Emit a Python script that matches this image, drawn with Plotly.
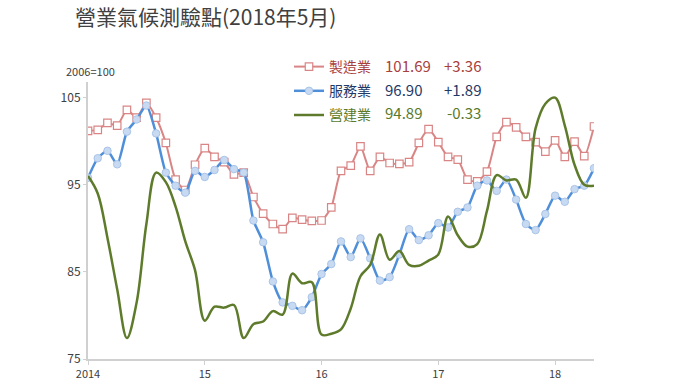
import plotly.graph_objects as go

months = list(range(53))  # Jan 2014 .. May 2018
tick_vals = [0, 12, 24, 36, 48]
tick_text = ["2014", "15", "16", "17", "18"]

manufacturing = [101.2, 101.3, 102.1, 101.8, 103.6, 102.7, 104.4, 102.7, 99.8, 95.6,
                 94.4, 97.3, 99.2, 98.2, 97.6, 96.2, 96.4, 93.6, 91.7, 90.5,
                 89.9, 91.2, 91.0, 90.85, 90.9, 92.4, 96.6, 97.2, 99.4, 96.6,
                 98.2, 97.5, 97.4, 97.6, 99.8, 101.4, 99.9, 98.2, 97.9, 95.6,
                 95.4, 96.5, 100.5, 102.2, 101.6, 100.5, 99.9, 98.8, 100.1, 98.2,
                 99.95, 98.3, 101.69]

services = [95.8, 98.05, 98.9, 97.35, 101.1, 102.5, 104.1, 100.9, 96.4, 94.9,
            94.1, 96.6, 95.9, 96.7, 97.85, 96.8, 96.4, 90.9, 88.4, 83.9,
            81.5, 81.1, 80.6, 82.1, 84.75, 85.9, 88.5, 86.7, 88.85, 86.55,
            84.0, 84.4, 87.0, 89.9, 88.65, 89.2, 90.6, 90.1, 91.9, 92.4,
            94.9, 95.5, 94.3, 95.6, 93.3, 90.5, 89.8, 91.65, 93.75, 93.05,
            94.5, 94.9, 96.90]

construction = [96.0, 94.0, 88.9, 83.0, 77.4, 81.5, 90.5, 96.4, 95.3, 92.5,
                88.5, 85.2, 79.4, 81.0, 80.9, 81.2, 77.4, 79.0, 79.3, 80.5,
                80.1, 84.8, 83.7, 83.8, 77.8, 77.9, 78.4, 80.8, 84.5, 85.8,
                89.3, 86.4, 87.4, 85.8, 85.7, 86.3, 87.0, 91.35, 89.2, 87.9,
                88.2, 92.0, 96.1, 95.5, 95.6, 93.5, 101.5, 104.3, 105.0, 101.8,
                97.3, 95.0, 94.89]

names = ["製造業", "服務業", "營建業"]
latest = ["101.69", "96.90", "94.89"]
changes = ["+3.36", "+1.89", "-0.33"]
text_colors = ["#a8403d", "#1f3a68", "#5a7a2a"]

fig = go.Figure()
fig.add_trace(go.Scatter(
    x=months, y=manufacturing, name=f"<span style='color:{text_colors[0]}'>{names[0]}</span>",
    legendgroup="a",
    mode="lines+markers", line=dict(color="#d98585", width=2, shape="spline", smoothing=0.6),
    marker=dict(symbol="square", size=7.5, color="white", line=dict(color="#d98585", width=1.2))))
fig.add_trace(go.Scatter(
    x=months, y=services, name=f"<span style='color:{text_colors[1]}'>{names[1]}</span>",
    legendgroup="b",
    mode="lines+markers", line=dict(color="#4f8fda", width=2.5, shape="spline", smoothing=0.6),
    marker=dict(symbol="circle", size=7.5, color="#c7daf2", line=dict(color="#a9c4e8", width=1))))
fig.add_trace(go.Scatter(
    x=months, y=construction, name=f"<span style='color:{text_colors[2]}'>{names[2]}</span>",
    legendgroup="c",
    mode="lines", line=dict(color="#5e7b2c", width=2.5, shape="spline", smoothing=1.0)))

L, R, T, B = 88, 86, 82, 23
W, H = 680, 382
pw, ph = W - L - R, H - T - B

def px_to_paper(px, py):
    return (px - L) / pw, (H - B - py) / ph

annotations = []
row_py = [65.7, 89.5, 112.3]
for i in range(3):
    xv, yv = px_to_paper(383, row_py[i])
    annotations.append(dict(x=xv, y=yv, xref="paper", yref="paper", text=latest[i],
                            showarrow=False, xanchor="left", yanchor="middle",
                            font=dict(size=15, color=text_colors[i])))
    xc, yc = px_to_paper(483, row_py[i])
    annotations.append(dict(x=xc, y=yc, xref="paper", yref="paper", text=changes[i],
                            showarrow=False, xanchor="right", yanchor="middle",
                            font=dict(size=15, color=text_colors[i])))

xu, yu = px_to_paper(64, 71)
annotations.append(dict(x=xu, y=yu, xref="paper", yref="paper", text="2006=100",
                        showarrow=False, xanchor="left", yanchor="middle",
                        font=dict(size=11, color="#404040")))

lx, ly = px_to_paper(289, 51)

fig.update_layout(
    width=W, height=H,
    margin=dict(l=L, r=R, t=T, b=B, pad=0, autoexpand=False),
    paper_bgcolor="white", plot_bgcolor="white",
    font=dict(family="Noto Sans CJK TC, Noto Sans, sans-serif", color="#404040"),
    title=dict(text="營業氣候測驗點(2018年5月)", x=75 / W, xanchor="left", y=1 - 18 / H, yanchor="middle",
               font=dict(size=21, color="#404040")),
    showlegend=True,
    legend=dict(x=lx, y=ly, xanchor="left", yanchor="top", font=dict(size=14),
                bgcolor="rgba(0,0,0,0)", tracegroupgap=3, itemwidth=30),
    annotations=annotations,
    xaxis=dict(range=[0, 52], tickvals=tick_vals, ticktext=tick_text, showgrid=False,
               zeroline=False, showline=True, linecolor="#d0d0d0", linewidth=2,
               ticks="outside", ticklen=4, tickcolor="#d0d0d0", tickwidth=1,
               tickfont=dict(size=11, color="#404040")),
    yaxis=dict(range=[75, 106.8], tickvals=[75, 85, 95, 105], showgrid=False,
               zeroline=False, showline=True, linecolor="#d0d0d0", linewidth=2,
               ticks="outside", ticklen=3, tickcolor="#d0d0d0",
               tickfont=dict(size=12, color="#404040")),
)

fig.write_html("out.html", config={"displayModeBar": False},
               post_script="document.body.style.margin='0';document.body.style.padding='0';")
